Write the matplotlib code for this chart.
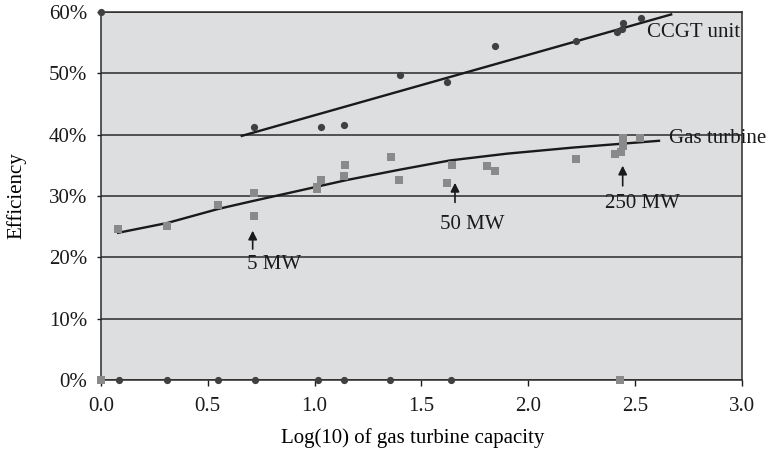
import matplotlib.pyplot as plt
from matplotlib.ticker import FuncFormatter

plt.rcParams['font.family'] = ['Liberation Serif', 'DejaVu Serif']

# CCGT unit efficiency against log10 of gas turbine capacity (MW)
ccgt_x = [0.0, 0.718, 1.030, 1.136, 1.398, 1.621, 1.846, 2.224, 2.414, 2.440, 2.442, 2.527,
          0.083, 0.310, 0.549, 0.722, 1.014, 1.139, 1.355, 1.637]
ccgt_y = [60.0, 41.2, 41.3, 41.6, 49.8, 48.6, 54.4, 55.2, 56.8, 57.2, 58.2, 59.0,
          0, 0, 0, 0, 0, 0, 0, 0]

# simple gas turbine efficiency
gt_x = [0.081, 0.310, 0.549, 0.718, 0.718, 1.010, 1.013, 1.030, 1.139, 1.144, 1.359, 1.397,
        1.621, 1.645, 1.808, 1.846, 2.224, 2.406, 2.434, 2.442, 2.445, 2.523, 0.0, 2.431]
gt_y = [24.6, 25.1, 28.5, 30.5, 26.8, 31.4, 31.2, 32.6, 33.3, 35.1, 36.4, 32.6,
        32.1, 35.1, 34.9, 34.0, 36.0, 36.8, 37.2, 38.2, 39.4, 39.4, 0, 0]

# trend lines
ccgt_trend_x = [0.659, 2.669]
ccgt_trend_y = [39.8, 59.6]
gt_trend_x = [0.08, 0.31, 0.55, 0.713, 0.932, 1.15, 1.4, 1.634, 1.9, 2.211, 2.612]
gt_trend_y = [24.0, 25.6, 27.9, 29.2, 30.9, 32.6, 34.3, 35.8, 36.9, 37.9, 39.0]

# capacity markers: label, x, arrow tip, arrow tail, text x, text y
mark_labels = ["5 MW", "50 MW", "250 MW"]
mark_x = [0.710, 1.657, 2.442]
mark_tip = [24.8, 32.6, 35.4]
mark_tail = [20.9, 28.5, 31.2]
mark_text_x = [0.81, 1.737, 2.535]
mark_text_y = [18.8, 25.3, 28.8]

FS = 15

fig = plt.figure(figsize=(7.68, 4.54), dpi=100)
ax = fig.add_axes([0.1315, 0.163, 0.8345, 0.8106])
ax.set_facecolor('#dddee0')

ax.plot(ccgt_trend_x, ccgt_trend_y, color='#1a1a1a', lw=1.7, zorder=3)
ax.plot(gt_trend_x, gt_trend_y, color='#1a1a1a', lw=1.7, zorder=3)

ax.plot(gt_x, gt_y, ls='none', marker='s', ms=6.2, color='#8a8a8a', mew=0, zorder=4, clip_on=False)
ax.plot(ccgt_x, ccgt_y, ls='none', marker='o', ms=5.2, color='#404040', mew=0, zorder=5, clip_on=False)

for lab, x, tip, tail, tx, ty in zip(mark_labels, mark_x, mark_tip, mark_tail, mark_text_x, mark_text_y):
    ax.annotate('', xy=(x, tip), xytext=(x, tail),
                arrowprops=dict(arrowstyle='-|>', color='#1a1a1a', lw=1.2, mutation_scale=13))
    ax.text(tx, ty, lab, ha='center', va='center', fontsize=FS, color='#1a1a1a')

ax.text(2.556, 56.6, "CCGT unit", ha='left', va='center', fontsize=FS, color='#1a1a1a')
ax.text(2.659, 39.4, "Gas turbine", ha='left', va='center', fontsize=FS, color='#1a1a1a',
        clip_on=False)

ax.set_xlim(0, 3)
ax.set_ylim(0, 60)
ax.set_xticks([0, 0.5, 1.0, 1.5, 2.0, 2.5, 3.0])
ax.set_yticks(range(0, 61, 10))
ax.xaxis.set_major_formatter(FuncFormatter(lambda v, p: f"{v:.1f}"))
ax.yaxis.set_major_formatter(FuncFormatter(lambda v, p: f"{v:.0f}%"))
ax.tick_params(axis='both', labelsize=FS, colors='#1a1a1a', width=1, length=4)
ax.tick_params(axis='x', pad=8)
ax.tick_params(axis='y', length=3, pad=7)

ax.grid(axis='y', color='#2a2a2a', lw=1.1)
for s in ['left', 'right', 'bottom', 'top']:
    ax.spines[s].set_color('#2a2a2a')
    ax.spines[s].set_linewidth(1.1)

ax.set_xlabel("Log(10) of gas turbine capacity", fontsize=FS)
ax.set_ylabel("Efficiency", fontsize=FS)
ax.xaxis.set_label_coords(0.487, -0.132)
ax.yaxis.set_label_coords(-0.116, 0.5)

fig.savefig("out.png", dpi=100)
